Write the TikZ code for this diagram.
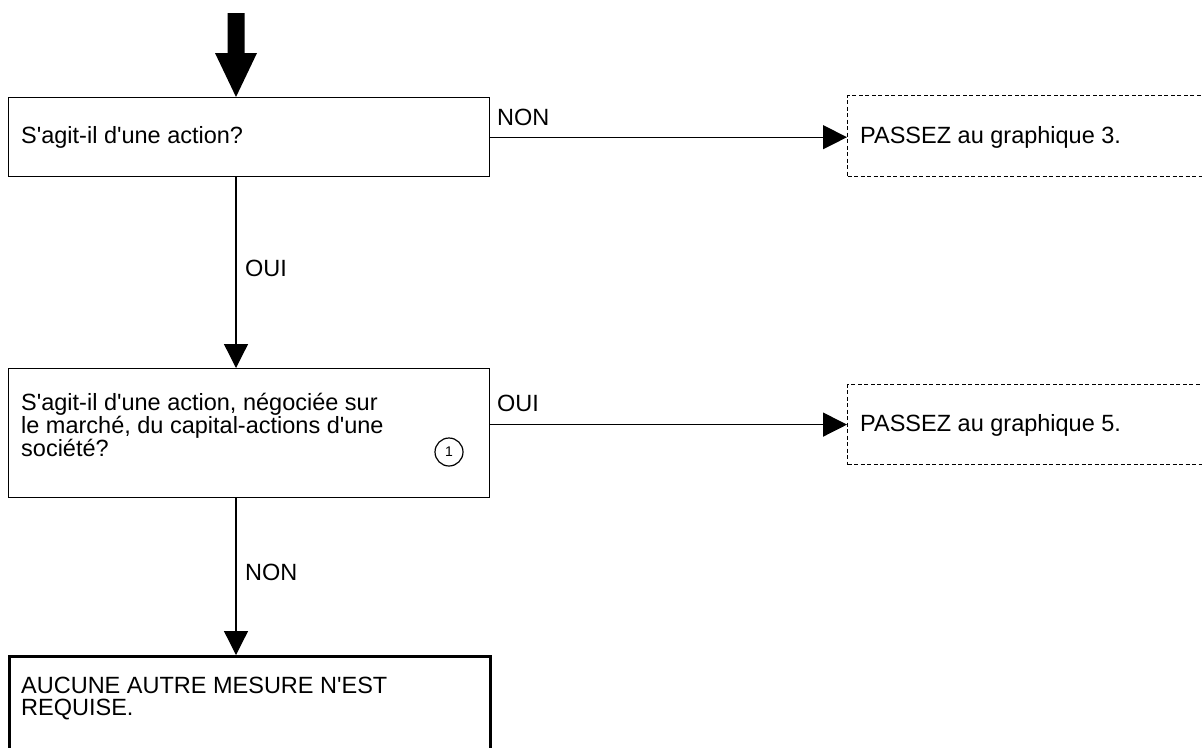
\documentclass[tikz,border=0pt]{standalone}
\usepackage{fontspec}
\setmainfont{Liberation Sans}[Ligatures=TeXOff]
\usetikzlibrary{arrows.meta}
\begin{document}
\begin{tikzpicture}[x=1pt,y=-1pt,
  font=\fontsize{23.5}{23}\selectfont,
  box/.style={draw, line width=1.4pt, rectangle, minimum width=481pt, inner sep=0pt, anchor=north west},
  dbox/.style={draw, line width=1.2pt, dash pattern=on 4pt off 2.5pt, rectangle, minimum width=370pt, inner sep=0pt, anchor=north west},
  txt/.style={anchor=base west, inner sep=0pt},
  arr/.style={line width=1.3pt, -{Triangle[length=24pt,width=24pt]}}
]
\useasboundingbox (0,0) rectangle (1202,747);
\clip (0,0) rectangle (1202,747);
\fill[white] (0,0) rectangle (1202,747);

% entry arrow
\coordinate (in) at (236,13);
\fill (227.5,13) -- (244.5,13) -- (244.5,53) -- (257,53) -- (236,97) -- (215,53) -- (227.5,53) -- cycle;

% boxes
\node[box, minimum height=79pt] (b1) at (8,97) {};
\node[box, minimum height=129pt] (b2) at (8,368) {};
\node[box, minimum height=130pt, line width=2.6pt] (b3) at (8,655) {};
\node[dbox, minimum height=81pt] (d1) at (847,95) {};
\node[dbox, minimum height=80pt] (d2) at (847,384) {};

% texts
\node[txt] (t1) at (21,143) {S'agit-il d'une action?};
\node[txt] (t2) at (21,410) {\parbox[t]{440pt}{\raggedright S'agit-il d'une action, négociée sur\\ le marché, du capital-actions d'une\\ société?}};
\node[txt] (t3) at (21,693) {\parbox[t]{440pt}{\fontsize{23.5}{22}\selectfont\raggedright AUCUNE AUTRE MESURE N'EST\\ REQUISE.}};
\node[txt] (t4) at (860,143) {PASSEZ au graphique 3.};
\node[txt] (t5) at (860,431) {PASSEZ au graphique 5.};
\node[draw, circle, line width=1.2pt, minimum size=28pt, inner sep=0pt, font=\fontsize{14}{14}\selectfont] (c1) at (449,452) {1};

% connectors
\draw[arr] (b1.east) -- (d1.west |- b1.east);
\draw[arr] (d2.west -| b2.east) -- (d2.west);
\draw[arr] (b1.south -| in) -- (b2.north -| in);
\draw[arr] (b2.south -| in) -- (b3.north -| in);

% labels
\node[txt] (l1) at (497,125) {NON};
\node[txt] (l2) at (245,276) {OUI};
\node[txt] (l3) at (497,411) {OUI};
\node[txt] (l4) at (245,580) {NON};
\end{tikzpicture}
\end{document}
